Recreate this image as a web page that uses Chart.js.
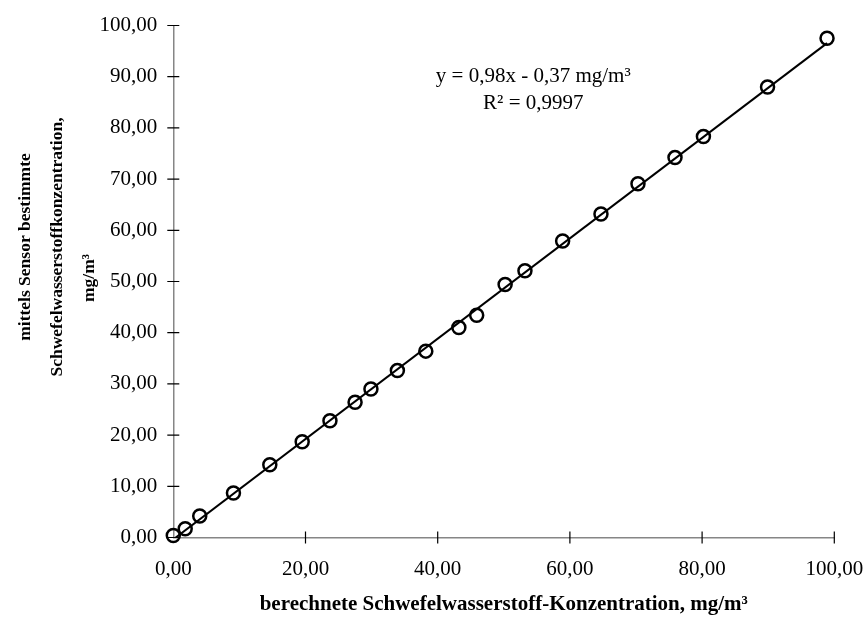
<!DOCTYPE html>
<html>
<head>
<meta charset="utf-8">
<script src="https://cdn.jsdelivr.net/npm/chart.js@4/dist/chart.umd.min.js"></script>
<style>
  html, body { margin: 0; padding: 0; background: #fff; }
  #wrap { width: 864px; height: 617px; }
</style>
</head>
<body>
<div id="wrap"><canvas id="myChart"></canvas></div>
<script>
// calculated vs. sensor-measured H2S concentration, mg/m3
const calcConc = [0.0, 1.8, 4.0, 9.1, 14.6, 19.5, 23.7, 27.5, 29.9, 33.9, 38.2, 43.2, 45.9, 50.2, 53.2, 58.9, 64.7, 70.3, 75.9, 80.2, 89.9, 98.9];
const sensorConc = [0.4, 1.7, 4.2, 8.7, 14.2, 18.7, 22.8, 26.4, 29.0, 32.6, 36.4, 41.0, 43.4, 49.4, 52.1, 57.9, 63.2, 69.1, 74.2, 78.3, 88.0, 97.5];

// linear fit shown on the chart
const fitSlope = 0.98;
const fitIntercept = -0.37;
const fitRange = [0, 98.9];

const yTitleLines = ['mittels Sensor bestimmte', 'Schwefelwasserstoffkonzentration,', 'mg/m³'];
const xTitle = 'berechnete Schwefelwasserstoff-Konzentration, mg/m³';
const fitLabel = ['y = 0,98x - 0,37 mg/m³', 'R² = 0,9997'];

const serif = "'Liberation Serif', 'Times New Roman', serif";

let points = [];
for (let i = 0; i < calcConc.length; i++) {
  points[i] = {x: calcConc[i], y: sensorConc[i]};
}
let fitPoints = fitRange.map(function(x) { return {x: x, y: fitSlope * x + fitIntercept}; });

function fmt(v) {
  return Number(v).toFixed(2).replace('.', ',');
}

// tick marks crossing the axis lines, y title and the fit equation
const extras = {
  id: 'extras',
  afterDraw: function(chart) {
    const c = chart.ctx;
    const xs = chart.scales.x, ys = chart.scales.y;
    const area = chart.chartArea;
    c.save();
    c.strokeStyle = '#000';
    c.lineWidth = 1.2;
    c.beginPath();
    ys.ticks.forEach(function(t) {
      const py = ys.getPixelForValue(t.value);
      c.moveTo(area.left - 6, py);
      c.lineTo(area.left + 6, py);
    });
    xs.ticks.forEach(function(t) {
      if (t.value === 0) return;
      const px = xs.getPixelForValue(t.value);
      c.moveTo(px, area.bottom - 6);
      c.lineTo(px, area.bottom + 6);
    });
    c.stroke();

    // y axis title, three rotated lines
    c.fillStyle = '#000';
    c.font = 'bold 17.5px ' + serif;
    c.textAlign = 'center';
    c.textBaseline = 'middle';
    const lineX = [25, 57, 89];
    const lineY = [247, 247, 278];
    for (let i = 0; i < yTitleLines.length; i++) {
      c.save();
      c.translate(lineX[i], lineY[i]);
      c.rotate(-Math.PI / 2);
      c.fillText(yTitleLines[i], 0, 0);
      c.restore();
    }

    // fit equation
    c.font = '21px ' + serif;
    c.fillText(fitLabel[0], area.left + 360, 76);
    c.fillText(fitLabel[1], area.left + 360, 103);
    c.restore();
  }
};

const ctx = document.getElementById('myChart');
new Chart(ctx, {
  type: 'scatter',
  data: {
    datasets: [{
      label: 'Messwerte',
      data: points,
      showLine: false,
      clip: false,
      pointStyle: 'circle',
      pointRadius: 6.5,
      pointBorderWidth: 2.5,
      pointBorderColor: '#000',
      pointBackgroundColor: 'rgba(0,0,0,0)',
      order: 1
    }, {
      label: 'Trend',
      data: fitPoints,
      showLine: true,
      borderColor: '#000',
      borderWidth: 2,
      pointRadius: 0,
      order: 2
    }]
  },
  options: {
    responsive: true,
    maintainAspectRatio: false,
    animation: false,
    layout: { padding: { top: 25.5, right: 29.7, left: 0, bottom: 0 } },
    plugins: {
      legend: { display: false },
      tooltip: { enabled: false }
    },
    scales: {
      x: {
        type: 'linear',
        min: 0,
        max: 100,
        afterFit: function(scale) {
          scale.height = 79.5;
          scale.paddingLeft = 0;
          scale.paddingRight = 0;
        },
        ticks: {
          stepSize: 20,
          padding: 19,
          color: '#000',
          font: { family: serif, size: 21 },
          callback: fmt
        },
        grid: { display: true, drawOnChartArea: false, drawTicks: false },
        border: { display: true, color: '#868686', width: 1.5 },
        title: {
          display: true,
          text: xTitle,
          color: '#000',
          font: { family: serif, size: 21, weight: 'bold' },
          padding: { top: 0, bottom: 0 }
        }
      },
      y: {
        type: 'linear',
        min: 0,
        max: 100,
        afterFit: function(scale) {
          scale.width = 173.3;
          scale.paddingTop = 0;
          scale.paddingBottom = 0;
        },
        ticks: {
          stepSize: 10,
          padding: 16,
          color: '#000',
          font: { family: serif, size: 21 },
          callback: fmt
        },
        grid: { display: true, drawOnChartArea: false, drawTicks: false },
        border: { display: true, color: '#868686', width: 1.5 }
      }
    }
  },
  plugins: [extras]
});
</script>
</body>
</html>
